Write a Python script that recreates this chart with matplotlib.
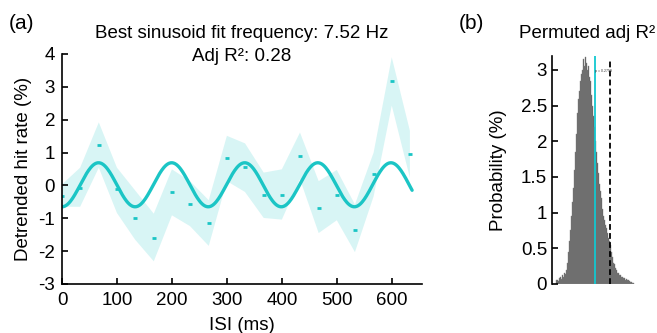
import numpy as np
import matplotlib
matplotlib.use("Agg")
import matplotlib.pyplot as plt

plt.rcParams['font.family'] = ['Liberation Sans', 'DejaVu Sans']
plt.rcParams['axes.unicode_minus'] = False

# ---- Panel (a) data ----
isi_ms = [0, 33, 67, 100, 133, 167, 200, 233, 267, 300, 333, 367, 400, 433, 467, 500, 533, 567, 600, 633]
hit_mean = [-0.31, -0.07, 1.23, -0.12, -0.99, -1.61, -0.19, -0.55, -1.15, 0.82,
            0.55, -0.30, -0.28, 0.89, -0.68, -0.29, -1.35, 0.36, 3.17, 0.96]
hit_upper = [0.03, 0.54, 1.92, 0.54, -0.15, -0.86, 0.49, 0.13, -0.45, 1.51,
             1.28, 0.39, 0.49, 1.61, 0.13, 0.47, -0.58, 1.00, 3.90, 1.66]
hit_lower = [-0.65, -0.65, 0.54, -0.84, -1.65, -2.31, -0.91, -1.24, -1.84, 0.13,
             -0.20, -0.99, -1.04, 0.19, -1.45, -1.06, -2.03, -0.33, 2.43, 0.23]

fit_freq_hz = 7.52
fit_amp = 0.67
fit_offset = 0.02
fit_peak_ms = 66.5
adj_r2 = 0.28

x_ticks_a = [0, 100, 200, 300, 400, 500, 600]
y_ticks_a = [-3, -2, -1, 0, 1, 2, 3, 4]

# ---- Panel (b) data ----
perm_bin_start = -0.11
perm_bin_width = 0.01
perm_prob = [0.05, 0.06, 0.04, 0.08, 0.10, 0.07, 0.12, 0.10, 0.15, 0.14,
             0.20, 0.30, 0.45, 0.60, 0.75, 0.95, 1.15, 1.35, 1.60, 1.85,
             2.10, 2.40, 2.60, 2.70, 2.85, 2.95, 3.00, 3.15, 3.05, 3.18,
             3.10, 3.00, 3.05, 2.90, 2.85, 2.65, 2.50, 2.35, 2.20, 2.00,
             1.85, 1.70, 1.55, 1.40, 1.30, 1.20, 1.05, 0.95, 0.90, 0.82,
             0.78, 0.72, 0.65, 0.60, 0.55, 0.45, 0.38, 0.30, 0.28, 0.22,
             0.20, 0.16, 0.15, 0.12, 0.13, 0.10, 0.10, 0.08, 0.09, 0.06,
             0.07, 0.05, 0.05, 0.04, 0.03, 0.03, 0.02, 0.02]
perm_95th = 0.43
y_ticks_b = [0, 0.5, 1, 1.5, 2, 2.5, 3]
y_ticklabels_b = ['0', '0.5', '1', '1.5', '2', '2.5', '3']

CYAN = '#1bc5c5'
FS = 13.5
W, H = 657, 333

fig = plt.figure(figsize=(W / 100, H / 100), dpi=100)

def fx(px):
    return px / W

def fy(py):
    return 1 - py / H

# ---------- Panel (a) ----------
axa = fig.add_axes([fx(62), fy(284), fx(422) - fx(62), fy(54) - fy(284)])
axa.fill_between(isi_ms, hit_lower, hit_upper, facecolor=CYAN, alpha=0.17, edgecolor='none')
t = np.linspace(isi_ms[0], isi_ms[-1] + 4, 500)
fit = fit_offset + fit_amp * np.cos(2 * np.pi * fit_freq_hz * (t - fit_peak_ms) / 1000.0)
axa.plot(t, fit, color=CYAN, lw=2.4, solid_capstyle='round')
axa.plot(isi_ms, hit_mean, linestyle='none', marker='_', markersize=3.5,
         markeredgewidth=2.0, color=CYAN)
axa.set_xlim(0, 655)
axa.set_ylim(-3, 4)
axa.set_xticks(x_ticks_a)
axa.set_yticks(y_ticks_a)
axa.tick_params(direction='in', length=4, width=1.2, labelsize=FS)
axa.tick_params(axis='x', pad=5.5)
axa.tick_params(axis='y', pad=5)
for s in ['top', 'right']:
    axa.spines[s].set_visible(False)
for s in ['left', 'bottom']:
    axa.spines[s].set_linewidth(1.2)
axa.set_ylabel('Detrended hit rate (%)', fontsize=FS)
axa.yaxis.set_label_coords(-0.083, 0.5)

fig.text(fx(242), fy(37.5), 'Best sinusoid fit frequency: 7.52 Hz', ha='center', va='baseline', fontsize=FS)
fig.text(fx(242), fy(61), 'Adj R²: %.2f' % adj_r2, ha='center', va='baseline', fontsize=FS)
fig.text(fx(242), fy(330), 'ISI (ms)', ha='center', va='baseline', fontsize=FS)
fig.text(fx(9), fy(29), '(a)', ha='left', va='baseline', fontsize=15)

# ---------- Panel (b) ----------
axb = fig.add_axes([fx(552), fy(284), fx(641) - fx(552), fy(55.7) - fy(284)])
centers = perm_bin_start + perm_bin_width * np.arange(len(perm_prob))
axb.bar(centers, perm_prob, width=perm_bin_width, align='edge',
        facecolor='#505050', edgecolor='#8a8a8a', linewidth=0.3)
axb.axvline(adj_r2, color='#12c8d0', lw=1.3)
axb.axvline(perm_95th, ymin=0, ymax=0.98, color='black', lw=1.3, linestyle=(0, (3.2, 1.8)))
axb.text(adj_r2 + 0.003, 2.98, 'p = 0.2759', fontsize=2.5, ha='left', va='center', color='#333333')
axb.set_xlim(-0.15, 0.74)
axb.set_ylim(0, 3.2)
axb.set_xticks([])
axb.set_yticks(y_ticks_b)
axb.set_yticklabels(y_ticklabels_b)
axb.tick_params(direction='in', length=4, width=1.2, labelsize=FS, pad=3.6)
for s in ['top', 'right', 'bottom']:
    axb.spines[s].set_visible(False)
axb.spines['left'].set_linewidth(1.2)
axb.set_ylabel('Probability (%)', fontsize=FS)
axb.yaxis.set_label_coords(-0.506, 0.5)

fig.text(fx(587), fy(37.5), 'Permuted adj R²', ha='center', va='baseline', fontsize=FS)
fig.text(fx(459), fy(29), '(b)', ha='left', va='baseline', fontsize=15)

fig.savefig('out.png', dpi=100)
